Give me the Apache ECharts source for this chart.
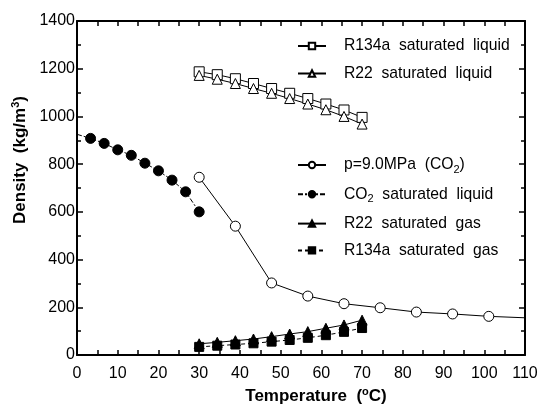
<!DOCTYPE html>
<html>
<head>
<meta charset="utf-8">
<script src="https://cdn.jsdelivr.net/npm/echarts@6/dist/echarts.min.js"></script>
<style>
html,body{margin:0;padding:0;background:#fff;}
#chart{width:539px;height:409px;}
</style>
</head>
<body>
<div id="chart"></div>
<script>
// Temperatures (°C)
var refrigTemps = [30, 34.44, 38.89, 43.33, 47.78, 52.22, 56.67, 61.11, 65.56, 70];
var co2LiqTemps = [0, 3.33, 6.67, 10, 13.33, 16.67, 20, 23.33, 26.67, 30];
var co2SCTemps = [30, 38.89, 47.78, 56.67, 65.56, 74.44, 83.33, 92.22, 101.11, 110];
// Densities (kg/m3)
var r134aLiquid = [1187, 1175, 1158, 1138, 1117, 1097, 1075, 1052, 1027, 996];
var r22Liquid = [1172, 1156, 1138, 1117, 1097, 1075, 1052, 1028, 1000, 968];
var co2SC = [745, 540, 302, 247, 215, 198, 180, 172, 162, 156];
var co2Liquid = [925, 908, 887, 860, 837, 804, 772, 733, 684, 600];
var r22Gas = [47, 53, 60, 67, 77, 88, 98, 112, 126, 146];
var r134aGas = [34, 39, 44, 49, 56, 63, 72, 83, 97, 113];
// Names
var names = ['R134a saturated liquid', 'R22 saturated liquid', 'p=9.0MPa (CO2)', 'CO2 saturated liquid', 'R22 saturated gas', 'R134a saturated gas'];
var xTicks = [0, 10, 20, 30, 40, 50, 60, 70, 80, 90, 100, 110];
var yTicks = [0, 200, 400, 600, 800, 1000, 1200, 1400];

function pairs(xs, ys, hideFirst, hideLast) {
  return xs.map(function (x, i) {
    var d = { value: [x, ys[i]] };
    if ((hideFirst && i === 0) || (hideLast && i === xs.length - 1)) d.symbol = 'none';
    return d;
  });
}

var legendFmt = function (name) {
  if (name === 'p=9.0MPa (CO2)') return '{t|p=9.0MPa  (CO}{s|2}{t|)}';
  if (name === 'CO2 saturated liquid') return '{t|CO}{s|2}{t|  saturated  liquid}';
  return '{t|' + name.replace(/ /g, '  ') + '}';
};
var FF = 'Liberation Sans, Arial';
var legendText = {
  color: '#000', fontFamily: FF, fontSize: 15.7, padding: [0, 0, 0, 13],
  rich: {
    t: { fontSize: 15.7, fontFamily: FF, color: '#000' },
    s: { fontSize: 11, fontFamily: FF, color: '#000', padding: [10, 0, 0, 0] }
  }
};

var base = { type: 'line', color: '#000', symbolSize: 10, clip: true, animation: false,
  lineStyle: { color: '#000', width: 1 } };

function mk(name, xs, ys, symbol, fill, lineType, hf, hl, size) {
  return Object.assign({}, base, {
    name: name, symbol: symbol, symbolSize: size || 10,
    data: pairs(xs, ys, hf, hl),
    itemStyle: { color: fill, borderColor: '#000', borderWidth: 1 },
    lineStyle: { color: '#000', width: 1, type: lineType }
  });
}

function axisCommon(len, minorLen) {
  return {
    axisLine: { show: true, onZero: false, lineStyle: { color: '#000', width: 2 } },
    axisTick: { show: true, inside: true, length: len, lineStyle: { color: '#000', width: 1.5 } },
    minorTick: { show: true, splitNumber: 2, length: minorLen, lineStyle: { color: '#000', width: 1.5 } },
    splitLine: { show: false }
  };
}

var chart = echarts.init(document.getElementById('chart'));
chart.setOption({
  backgroundColor: '#fff',
  animation: false,
  grid: { left: 77, right: 14, top: 21, bottom: 54, containLabel: false, outerBoundsMode: 'none' },
  legend: [
    { data: [names[0], names[1]], orient: 'vertical', left: 292, top: 33, itemWidth: 28, itemHeight: 8, itemGap: 11.5,
      formatter: legendFmt, textStyle: legendText },
    { data: [names[2], names[3], names[4], names[5]], orient: 'vertical', left: 292, top: 152, itemWidth: 28, itemHeight: 8, itemGap: 10.8,
      formatter: legendFmt, textStyle: legendText }
  ],
  xAxis: [
    Object.assign({ type: 'value', min: 0, max: 110, interval: 10, position: 'bottom',
      axisLabel: { color: '#000', fontSize: 16, fontFamily: FF, margin: 11,
        formatter: function (v) { return xTicks.indexOf(v) >= 0 ? String(v) : ''; } },
      name: '{b|Temperature  (}{sup|o}{b|C)}', nameLocation: 'middle', nameGap: 27,
      nameTextStyle: { padding: [0, 0, 0, 30], rich: {
        b: { fontSize: 17, fontWeight: 'bold', fontFamily: FF, color: '#000' },
        sup: { fontSize: 11, fontWeight: 'bold', fontFamily: FF, color: '#000', padding: [0, 0, 8, 0] } } } },
      axisCommon(5, 5)),
    Object.assign({ type: 'value', min: 0, max: 110, interval: 10, position: 'top',
      axisLabel: { show: false } }, axisCommon(5, 5))
  ],
  yAxis: [
    Object.assign({ type: 'value', min: 0, max: 1400, interval: 200, position: 'left',
      axisLabel: { color: '#000', fontSize: 16, fontFamily: FF, margin: 2,
        formatter: function (v) { return yTicks.indexOf(v) >= 0 ? String(v) : ''; } },
      name: '{b|Density  (kg/m}{sup|3}{b|)}', nameLocation: 'middle', nameGap: 44, nameRotate: 90,
      nameTextStyle: { padding: [0, 0, 0, 56], rich: {
        b: { fontSize: 17, fontWeight: 'bold', fontFamily: FF, color: '#000' },
        sup: { fontSize: 11, fontWeight: 'bold', fontFamily: FF, color: '#000', padding: [0, 0, 8, 0] } } } },
      axisCommon(6, 4)),
    Object.assign({ type: 'value', min: 0, max: 1400, interval: 200, position: 'right',
      axisLabel: { show: false } }, axisCommon(6, 4))
  ],
  series: [
    mk(names[0], refrigTemps, r134aLiquid, 'rect', '#fff', 'solid', false, false, 10),
    mk(names[1], refrigTemps, r22Liquid, 'triangle', '#fff', 'solid', false, false, 10),
    mk(names[2], co2SCTemps, co2SC, 'circle', '#fff', 'solid', false, true, 10),
    mk(names[3], co2LiqTemps, co2Liquid, 'circle', '#000', [5, 2, 2, 2], true, false, 10),
    mk(names[4], refrigTemps, r22Gas, 'triangle', '#000', 'solid', false, false, 10),
    mk(names[5], refrigTemps, r134aGas, 'rect', '#000', [4, 3], false, false, 9)
  ]
});
</script>
</body>
</html>
